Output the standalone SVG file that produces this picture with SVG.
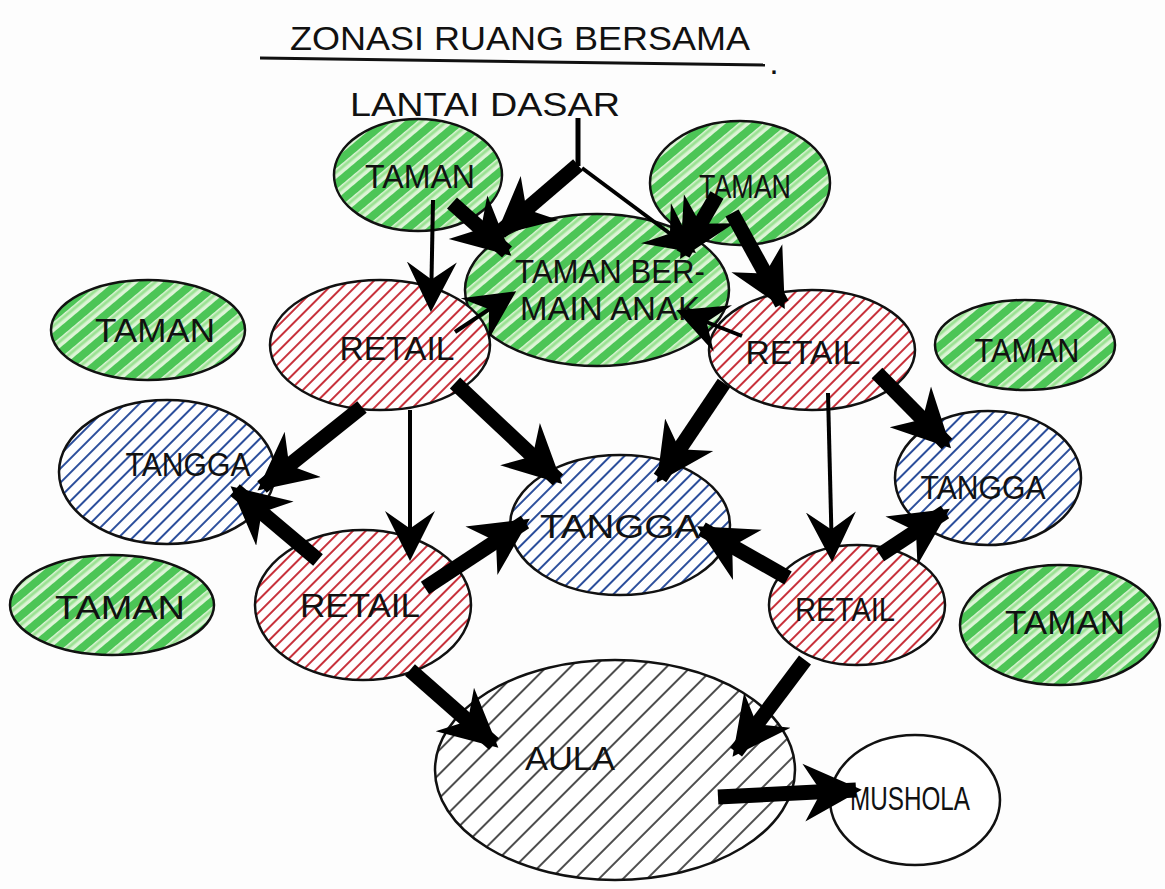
<svg xmlns="http://www.w3.org/2000/svg" width="1165" height="889" viewBox="0 0 1165 889">
<defs>
<pattern id="hg" width="16" height="16" patternUnits="userSpaceOnUse" patternTransform="rotate(-40)">
<rect width="16" height="16" fill="#dcf4d6"/>
<line x1="0" y1="5" x2="16" y2="5" stroke="#4cc556" stroke-width="8" stroke-linecap="round"/>
<line x1="0" y1="12" x2="16" y2="12" stroke="#9be293" stroke-width="3"/>
</pattern>
<pattern id="hr" width="9" height="9" patternUnits="userSpaceOnUse" patternTransform="rotate(-45)">
<rect width="9" height="9" fill="#fff"/>
<line x1="0" y1="4" x2="9" y2="4" stroke="#c8323c" stroke-width="2"/>
</pattern>
<pattern id="hb" width="10" height="10" patternUnits="userSpaceOnUse" patternTransform="rotate(-45)">
<rect width="10" height="10" fill="#fff"/>
<line x1="0" y1="4" x2="10" y2="4" stroke="#2c4f9c" stroke-width="2"/>
</pattern>
<pattern id="hk" width="17" height="17" patternUnits="userSpaceOnUse" patternTransform="rotate(-45)">
<rect width="17" height="17" fill="#fff"/>
<line x1="0" y1="8" x2="17" y2="8" stroke="#222" stroke-width="1.6"/>
</pattern>
<marker id="ah" viewBox="0 0 10 10" refX="9" refY="5" markerUnits="userSpaceOnUse" markerWidth="58" markerHeight="62" orient="auto">
<path d="M0,0 L10,5 L0,10 L3,5 z" fill="#000"/>
</marker>
<marker id="ahs" viewBox="0 0 10 10" refX="9" refY="5" markerUnits="userSpaceOnUse" markerWidth="50" markerHeight="56" orient="auto">
<path d="M0,0 L10,5 L0,10 L3.5,5 z" fill="#000"/>
</marker>
</defs>
<style>
.o{stroke:#111;stroke-width:2.5}
.g{fill:url(#hg)} .r{fill:url(#hr)} .b{fill:url(#hb)} .k{fill:url(#hk)} .w{fill:#fff}
text{font-family:"Liberation Sans","DejaVu Sans",sans-serif;fill:#111;text-anchor:middle;font-size:34px}
.thick{stroke:#000;stroke-width:15;fill:none;marker-end:url(#ah)}
.thin{stroke:#000;stroke-width:4;fill:none;marker-end:url(#ahs)}
</style>
<rect width="1165" height="889" fill="#fdfdfd"/>
<g id="title">
<text x="520" y="50" font-size="42" textLength="460" lengthAdjust="spacingAndGlyphs">ZONASI RUANG BERSAMA</text>
<text x="774" y="74" font-size="34">.</text>
<path d="M260,58 L765,65" stroke="#111" stroke-width="3" fill="none"/>
<text x="485" y="116" font-size="38" textLength="270" lengthAdjust="spacingAndGlyphs">LANTAI DASAR</text>
</g>
<g id="n-taman-tl"><ellipse class="o g" cx="418" cy="175" rx="84" ry="56"/><text x="420" y="188" textLength="110" lengthAdjust="spacingAndGlyphs">TAMAN</text></g>
<g id="n-taman-tr"><ellipse class="o g" cx="740" cy="183" rx="90" ry="62"/><text x="745" y="198" textLength="92" lengthAdjust="spacingAndGlyphs">TAMAN</text></g>
<g id="n-tba"><ellipse class="o g" cx="597" cy="290" rx="132" ry="76"/><text x="610" y="283" font-size="30" textLength="190" lengthAdjust="spacingAndGlyphs">TAMAN BER-</text><text x="610" y="320" font-size="30" textLength="180" lengthAdjust="spacingAndGlyphs">MAIN ANAK</text></g>
<g id="n-taman-l"><ellipse class="o g" cx="148" cy="330" rx="97" ry="50"/><text x="155" y="342" textLength="120" lengthAdjust="spacingAndGlyphs">TAMAN</text></g>
<g id="n-retail-l"><ellipse class="o r" cx="380" cy="345" rx="110" ry="65"/><text x="397" y="360" textLength="115" lengthAdjust="spacingAndGlyphs">RETAIL</text></g>
<g id="n-retail-r"><ellipse class="o r" cx="812" cy="350" rx="103" ry="60"/><text x="803" y="364" textLength="115" lengthAdjust="spacingAndGlyphs">RETAIL</text></g>
<g id="n-taman-r"><ellipse class="o g" cx="1025" cy="345" rx="90" ry="45"/><text x="1027" y="362" textLength="105" lengthAdjust="spacingAndGlyphs">TAMAN</text></g>
<g id="n-tangga-l"><ellipse class="o b" cx="167" cy="472" rx="108" ry="72"/><text x="188" y="476" textLength="125" lengthAdjust="spacingAndGlyphs">TANGGA</text></g>
<g id="n-tangga-c"><ellipse class="o b" cx="620" cy="525" rx="110" ry="70"/><text x="620" y="538" textLength="160" lengthAdjust="spacingAndGlyphs">TANGGA</text></g>
<g id="n-tangga-r"><ellipse class="o b" cx="988" cy="478" rx="93" ry="67"/><text x="983" y="499" textLength="125" lengthAdjust="spacingAndGlyphs">TANGGA</text></g>
<g id="n-taman-bl"><ellipse class="o g" cx="112" cy="605" rx="102" ry="50"/><text x="120" y="619" textLength="130" lengthAdjust="spacingAndGlyphs">TAMAN</text></g>
<g id="n-retail-bl"><ellipse class="o r" cx="363" cy="605" rx="108" ry="75"/><text x="360" y="617" textLength="120" lengthAdjust="spacingAndGlyphs">RETAIL</text></g>
<g id="n-retail-br"><ellipse class="o r" cx="857" cy="605" rx="88" ry="60"/><text x="845" y="621" textLength="100" lengthAdjust="spacingAndGlyphs">RETAIL</text></g>
<g id="n-taman-br"><ellipse class="o g" cx="1060" cy="625" rx="100" ry="60"/><text x="1065" y="634" textLength="120" lengthAdjust="spacingAndGlyphs">TAMAN</text></g>
<g id="n-aula"><ellipse class="o k" cx="615" cy="770" rx="180" ry="110"/><text x="570" y="770" font-size="36" textLength="90" lengthAdjust="spacingAndGlyphs">AULA</text></g>
<g id="n-mushola"><ellipse class="o w" cx="915" cy="800" rx="85" ry="65"/><text x="910" y="810" font-size="30" textLength="120" lengthAdjust="spacingAndGlyphs">MUSHOLA</text></g>
<g id="connectors">
<path d="M578,118 L578,166" stroke="#000" stroke-width="5" fill="none"/>
<path class="thick" d="M578,165 L500,232"/>
<path class="thin" d="M582,168 L692,250"/>
<path class="thick" d="M452,203 L507,252"/>
<path class="thin" d="M433,200 L431,307"/>
<path class="thick" d="M717,195 L683,254"/>
<path class="thick" d="M732,213 L782,304"/>
<path class="thin" d="M455,332 L512,294"/>
<path class="thin" d="M742,336 L681,312"/>
<path class="thick" d="M362,407 L262,487"/>
<path class="thin" d="M410,410 L410,556"/>
<path class="thick" d="M455,383 L558,480"/>
<path class="thick" d="M318,560 L235,490"/>
<path class="thick" d="M425,588 L525,522"/>
<path class="thick" d="M724,383 L660,478"/>
<path class="thin" d="M828,393 L832,557"/>
<path class="thick" d="M877,373 L947,444"/>
<path class="thick" d="M788,578 L702,529"/>
<path class="thick" d="M880,555 L945,512"/>
<path class="thick" d="M410,670 L494,744"/>
<path class="thick" d="M805,660 L736,752"/>
<path class="thick" d="M718,797 L856,790"/>
</g>
</svg>
